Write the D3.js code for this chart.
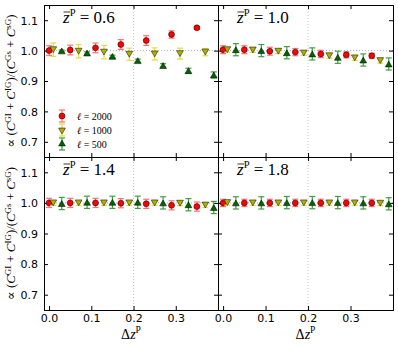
<!DOCTYPE html>
<html><head><meta charset="utf-8">
<script src="https://cdn.jsdelivr.net/npm/d3@7"></script>
<style>body{margin:0;background:#fff}svg{display:block}</style>
</head><body>
<script>
// ---- data ----
const zbar = ["0.6", "1.0", "1.4", "1.8"];
const ellLabels = ["2000", "1000", "500"];
const dz2000 = [0.00, 0.05, 0.11, 0.17, 0.23, 0.29, 0.35];
const dz1000 = [0.01, 0.07, 0.13, 0.19, 0.25, 0.31, 0.37];
const dz500  = [0.03, 0.09, 0.15, 0.21, 0.27, 0.33, 0.39];

const r06 = [1.000, 1.002, 1.009, 1.020, 1.033, 1.053, 1.075];
const r06e = [0.016, 0.016, 0.016, 0.016, 0.016, 0.012, 0.004];
const y06 = [1.003, 0.998, 0.995, 0.988, 0.989, 0.990, 0.995];
const y06e = [0.022, 0.022, 0.022, 0.020, 0.020, 0.018, 0.012];
const g06 = [0.999, 0.992, 0.981, 0.967, 0.951, 0.934, 0.920];
const g06e = [0.003, 0.004, 0.004, 0.005, 0.006, 0.008, 0.010];

const r10 = [1.003, 1.003, 0.998, 0.995, 0.989, 0.986, 0.983];
const r10e = [0.013, 0.013, 0.013, 0.012, 0.012, 0.010, 0.008];
const y10 = [1.003, 1.002, 0.998, 0.992, 0.983, 0.976, 0.967];
const y10e = [0.008, 0.008, 0.008, 0.008, 0.008, 0.008, 0.008];
const g10 = [1.003, 1.000, 0.993, 0.989, 0.978, 0.969, 0.956];
const g10e = [0.020, 0.020, 0.020, 0.020, 0.020, 0.020, 0.020];

const r14 = [1.000, 1.000, 1.000, 0.999, 0.997, 0.992, 0.988];
const r14e = [0.015, 0.015, 0.015, 0.015, 0.015, 0.015, 0.015];
const y14 = [1.000, 1.000, 1.000, 1.000, 1.000, 0.999, 0.993];
const y14e = [0.008, 0.008, 0.008, 0.008, 0.008, 0.008, 0.008];
const g14 = [0.998, 1.002, 1.002, 1.002, 1.000, 0.994, 0.985];
const g14e = [0.020, 0.020, 0.020, 0.020, 0.020, 0.020, 0.020];

const r18 = [1.000, 1.000, 1.000, 1.000, 1.000, 1.000, 1.000];
const r18e = [0.012, 0.012, 0.012, 0.012, 0.012, 0.012, 0.012];
const y18 = [1.001, 1.000, 1.000, 1.000, 1.000, 1.000, 0.999];
const y18e = [0.008, 0.008, 0.008, 0.008, 0.008, 0.008, 0.008];
const g18 = [1.000, 1.000, 1.001, 1.001, 1.001, 1.000, 0.997];
const g18e = [0.020, 0.020, 0.020, 0.020, 0.020, 0.020, 0.020];

const xTicks = [0.0, 0.1, 0.2, 0.3];
const yTicks = [0.7, 0.8, 0.9, 1.0, 1.1];

const panelData = [
  [[dz2000, r06, r06e], [dz1000, y06, y06e], [dz500, g06, g06e]],
  [[dz2000, r10, r10e], [dz1000, y10, y10e], [dz500, g10, g10e]],
  [[dz2000, r14, r14e], [dz1000, y14, y14e], [dz500, g14, g14e]],
  [[dz2000, r18, r18e], [dz1000, y18, y18e], [dz500, g18, g18e]]
];

// ---- styles ----
const styles = [
  {shape: d3.symbolCircle, size: 28, fill: "#ff0000", err: "#ff7070", rot: 0},
  {shape: d3.symbolTriangle, size: 20, fill: "#b0b000", err: "#dede40", rot: 180},
  {shape: d3.symbolTriangle, size: 20, fill: "#006400", err: "#3f9f3f", rot: 0}
];

const W = 398, H = 348;
const svg = d3.select("body").append("svg").attr("width", W).attr("height", H);

const colX = [[44, 218], [218, 393]];
const rowY = [[5, 157], [157, 310]];
const serif = "'Liberation Serif', 'DejaVu Serif', serif";
const sans = "'DejaVu Sans', sans-serif";

panelData.forEach((series, i) => {
  const col = i % 2, row = Math.floor(i / 2);
  const x = d3.scaleLinear().domain([-0.012, 0.4]).range(colX[col]);
  const y = d3.scaleLinear().domain([0.65, 1.15]).range([rowY[row][1], rowY[row][0]]);
  const g = svg.append("g");

  // reference dotted lines
  g.append("line").attr("x1", x.range()[0]).attr("x2", x.range()[1])
    .attr("y1", y(1.0)).attr("y2", y(1.0))
    .attr("stroke", "#b0b0b0").attr("stroke-width", 1).attr("stroke-dasharray", "1,2");
  g.append("line").attr("x1", x(0.2)).attr("x2", x(0.2))
    .attr("y1", y.range()[0]).attr("y2", y.range()[1])
    .attr("stroke", "#c8c8c8").attr("stroke-width", 1).attr("stroke-dasharray", "1,2");

  // axes (inward ticks on all sides)
  const tl = 4;
  const axB = d3.axisBottom(x).tickValues(xTicks).tickSize(-tl).tickFormat(d3.format(".1f"));
  const axT = d3.axisTop(x).tickValues(xTicks).tickSize(-tl).tickFormat("");
  const axL = d3.axisLeft(y).tickValues(yTicks).tickSize(-tl).tickFormat(d3.format(".1f"));
  const axR = d3.axisRight(y).tickValues(yTicks).tickSize(-tl).tickFormat("");
  const gb = g.append("g").attr("transform", `translate(0,${y.range()[0]})`).call(axB);
  const gt = g.append("g").attr("transform", `translate(0,${y.range()[1]})`).call(axT);
  const gl = g.append("g").attr("transform", `translate(${x.range()[0]},0)`).call(axL);
  const gr = g.append("g").attr("transform", `translate(${x.range()[1]},0)`).call(axR);
  [gb, gt, gl, gr].forEach(a => {
    a.select(".domain").attr("stroke", "#000").attr("stroke-width", 1);
    a.selectAll(".tick line").attr("stroke", "#000");
    a.selectAll("text").attr("font-family", sans).attr("font-size", 11).attr("fill", "#000");
  });
  if (row === 0) gb.selectAll("text").remove();
  else gb.selectAll("text").attr("y", 4);
  if (col === 1) gl.selectAll("text").remove();
  else gl.selectAll("text").attr("x", -6).attr("dy", "0.35em");

  // data: error bars + markers
  series.forEach((s, k) => {
    const st = styles[k];
    const [xs, vs, es] = s;
    const pts = xs.map((xv, j) => ({x: xv, v: vs[j], e: es[j]}));
    const eg = g.append("g");
    pts.forEach(p => {
      const px = x(p.x);
      eg.append("line").attr("x1", px).attr("x2", px).attr("y1", y(p.v - p.e)).attr("y2", y(p.v + p.e))
        .attr("stroke", st.err).attr("stroke-width", 1.2);
      [p.v - p.e, p.v + p.e].forEach(c => {
        eg.append("line").attr("x1", px - 3).attr("x2", px + 3).attr("y1", y(c)).attr("y2", y(c))
          .attr("stroke", st.err).attr("stroke-width", 1.2);
      });
      eg.append("path").attr("d", d3.symbol().type(st.shape).size(st.size)())
        .attr("transform", `translate(${px},${y(p.v) + (k === 0 ? 0 : (st.rot ? -1 : 1))}) rotate(${st.rot})`)
        .attr("fill", st.fill).attr("stroke", "#000").attr("stroke-width", 0.5);
    });
  });

  // panel label z̄^P = value
  const lx0 = x.range()[0] + 19, ly0 = y.range()[1] + 18;
  const lt = g.append("text").attr("x", lx0).attr("y", ly0)
    .attr("font-family", serif).attr("font-size", 17).attr("fill", "#000");
  const zs = lt.append("tspan").attr("font-style", "italic").text("z");
  lt.append("tspan").attr("font-size", 10.5).attr("dy", -7).text("P");
  lt.append("tspan").attr("dy", 7).text(" = " + zbar[i]);
  const zw = zs.node().getComputedTextLength();
  g.append("line").attr("x1", lx0 + 0.5).attr("x2", lx0 + zw + 0.5).attr("y1", ly0 - 11).attr("y2", ly0 - 11)
    .attr("stroke", "#000").attr("stroke-width", 0.8);

  // x label
  if (row === 1) {
    const xl = g.append("text").attr("x", (x.range()[0] + x.range()[1]) / 2).attr("y", 339)
      .attr("text-anchor", "middle").attr("font-family", serif).attr("font-size", 14).attr("fill", "#000");
    xl.append("tspan").text("\u0394");
    xl.append("tspan").attr("font-style", "italic").text("z");
    xl.append("tspan").attr("font-size", 9.5).attr("dy", -6).text("P");
  }

  // y label
  if (col === 0) {
    const cy = (y.range()[0] + y.range()[1]) / 2;
    const yl = g.append("text").attr("transform", `translate(15,${cy}) rotate(-90)`)
      .attr("text-anchor", "middle").attr("font-family", serif).attr("font-size", 10).attr("fill", "#000");
    let up = false;
    const seq = [["\u221D (", 0], ["C", 1], ["GI", 2], [" + ", 0], ["C", 1], ["IG", 2], [")/(", 0],
                 ["C", 1], ["Gs", 2], [" + ", 0], ["C", 1], ["sG", 2], [")", 0]];
    seq.forEach(([t, kind]) => {
      if (kind === 2) {
        yl.append("tspan").attr("font-size", 7).attr("dy", -4).text(t); up = true;
      } else {
        yl.append("tspan").attr("font-style", kind === 1 ? "italic" : "normal").attr("dy", up ? 4 : 0).text(t); up = false;
      }
    });
    const len = yl.node().getComputedTextLength();
    const target = 133;
    yl.attr("font-size", 10 * target / len);
    yl.selectAll("tspan").filter(function () { return d3.select(this).attr("font-size"); })
      .attr("font-size", 7 * target / len);
  }

  // legend in first panel
  if (i === 0) {
    const lx = 62, ly0 = 116, dy = 14;
    styles.forEach((st, k) => {
      const ly = ly0 + k * dy;
      const e = 6;
      g.append("line").attr("x1", lx).attr("x2", lx).attr("y1", ly - e).attr("y2", ly + e)
        .attr("stroke", st.err).attr("stroke-width", 1.2);
      [ly - e, ly + e].forEach(c => g.append("line").attr("x1", lx - 3).attr("x2", lx + 3).attr("y1", c).attr("y2", c)
        .attr("stroke", st.err).attr("stroke-width", 1.2));
      g.append("path").attr("d", d3.symbol().type(st.shape).size(st.size)())
        .attr("transform", `translate(${lx},${ly}) rotate(${st.rot})`)
        .attr("fill", st.fill).attr("stroke", "#000").attr("stroke-width", 0.5);
      const t = g.append("text").attr("x", 77).attr("y", ly + 3.5)
        .attr("font-family", serif).attr("font-size", 10).attr("fill", "#000");
      t.append("tspan").attr("font-style", "italic").text("\u2113");
      t.append("tspan").text(" = " + ellLabels[k]);
    });
  }
});
</script>
</body></html>
